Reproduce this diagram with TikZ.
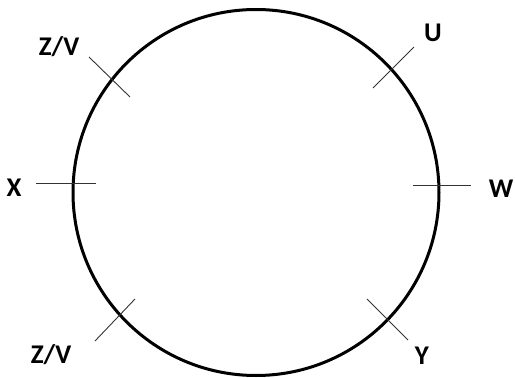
\documentclass[tikz,border=0pt]{standalone}
\usepackage{fontspec}
\setmainfont{Carlito}
\begin{document}
\begin{tikzpicture}[
        x=1pt, y=-1pt,
        ring/.style={circle, draw=black, line width=3pt, minimum size=366pt, inner sep=0pt},
        tick/.style={draw=black!80, line width=0.9pt},
        tag/.style={font=\fontsize{27}{30}\selectfont\bfseries, text=black, inner sep=0pt}
    ]
        \useasboundingbox (0,0) rectangle (515,378);

        % Circle
        \node[ring] (ring) at (256,192.5) {};

        % Tick ends
        \coordinate (tl_a) at (89,57);   \coordinate (tl_b) at (130,97);
        \coordinate (u_a) at (373,88);   \coordinate (u_b) at (414,47);
        \coordinate (x_a) at (36,183);   \coordinate (x_b) at (96,183);
        \coordinate (w_a) at (413,185);  \coordinate (w_b) at (471,185);
        \coordinate (y_a) at (367,299);  \coordinate (y_b) at (408,340);
        \coordinate (bl_a) at (95,341);  \coordinate (bl_b) at (135,299);

        % Ticks
        \draw[tick] (tl_a) -- (tl_b);
        \draw[tick] (u_a) -- (u_b);
        \draw[tick] (x_a) -- (x_b);
        \draw[tick] (w_a) -- (w_b);
        \draw[tick] (y_a) -- (y_b);
        \draw[tick] (bl_a) -- (bl_b);

        % Labels
        \node[tag] (lab_tl) at (59,47) {Z/V};
        \node[tag] (lab_u) at (433,33) {U};
        \node[tag] (lab_x) at (14,188) {X};
        \node[tag] (lab_w) at (501,189) {W};
        \node[tag] (lab_bl) at (51,355) {Z/V};
        \node[tag] (lab_y) at (422,356) {Y};
    \end{tikzpicture}
\end{document}
